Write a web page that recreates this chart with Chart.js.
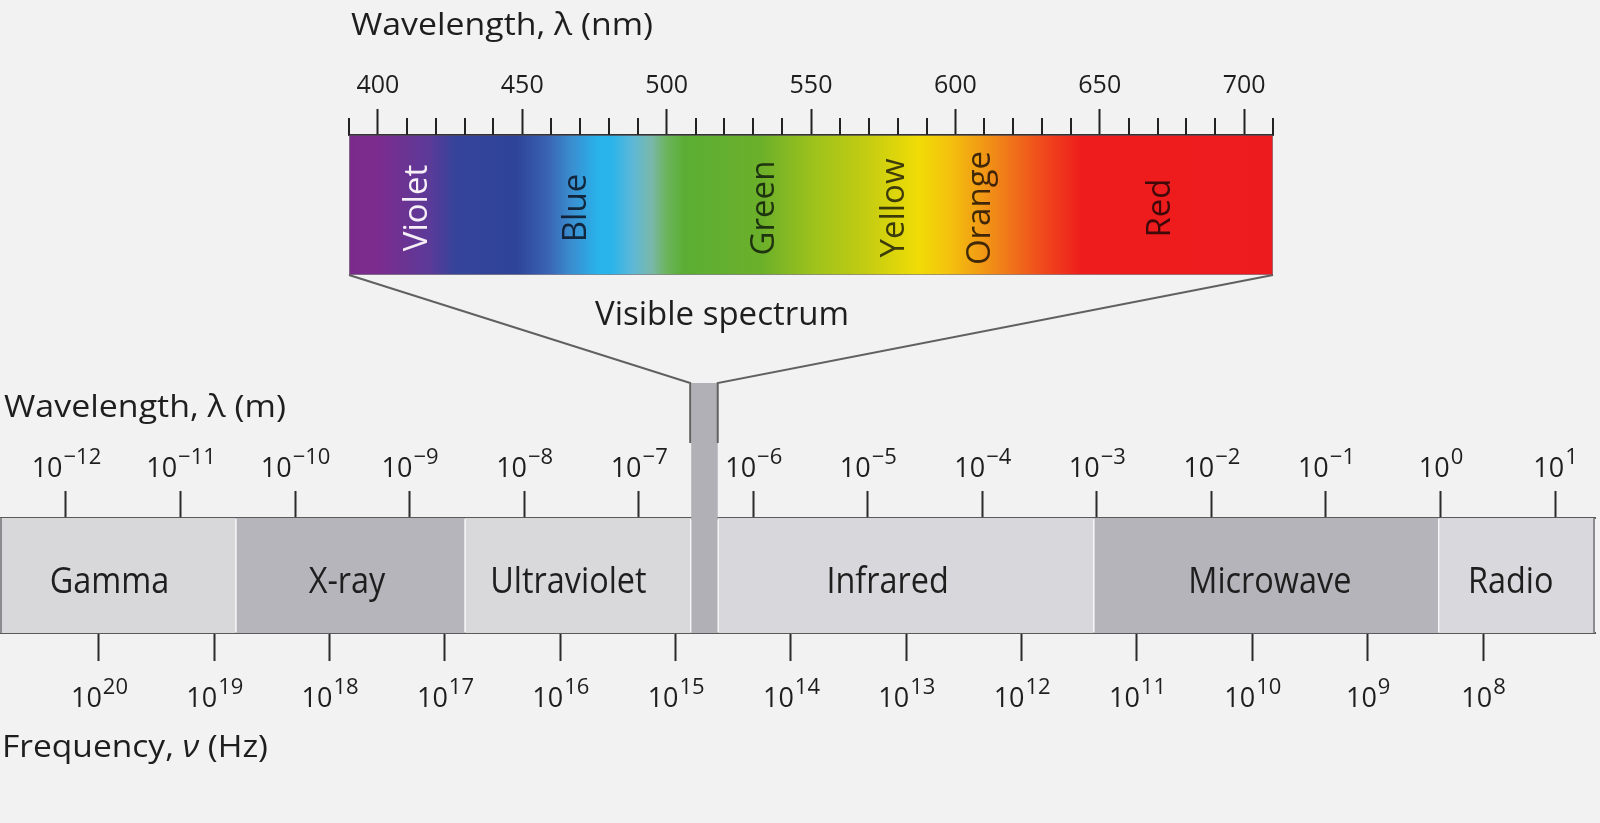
<!DOCTYPE html>
<html>
<head>
<meta charset="utf-8">
<script src="https://cdn.jsdelivr.net/npm/chart.js@4.4.1/dist/chart.umd.min.js"></script>
<style>
  html, body { margin: 0; padding: 0; background: #f2f2f2; }
  #wrap { position: relative; width: 1600px; height: 823px; }
  #wrap canvas { position: absolute; left: 0; top: 0; }
</style>
</head>
<body>
<div id="wrap">
  <canvas id="emChart" width="1600" height="823"></canvas>
  <canvas id="visChart" width="1600" height="823"></canvas>
</div>
<script>
// Visible spectrum, wavelength in nm
const nmRange = [390, 710];
const nmTickLabels = [400, 450, 500, 550, 600, 650, 700];
const colourNames = ['Violet', 'Blue', 'Green', 'Yellow', 'Orange', 'Red'];
const colourNm = [413, 468, 533, 578, 608, 670];

// Electromagnetic bands, log10 of wavelength in metres
const bandNames = ['Gamma', 'X-ray', 'Ultraviolet', 'Visible', 'Infrared', 'Microwave', 'Radio'];
const bandStart = [-12.58, -10.52, -8.52, -6.55, -6.31, -3.03, -0.02];
const bandEnd = [-10.52, -8.52, -6.55, -6.31, -3.03, -0.02, 1.35];

// axis tick labels (powers of ten)
const wavelengthExp = [-12, -11, -10, -9, -8, -7, -6, -5, -4, -3, -2, -1, 0, 1];
const frequencyExp = [20, 19, 18, 17, 16, 15, 14, 13, 12, 11, 10, 9, 8];

// styles
const FONT = "'Open Sans', 'Noto Sans', sans-serif";
const TEXT = '#1e1e1e';
const bandColours = ['#d8d8db', '#b6b5bb', '#d9d9dc', '#b1b0b6', '#d8d8dc', '#b5b4ba', '#d9d8dd'];
const bandLabelShift = [-8, -3, -9, 0, -18, 4, -6];
const specStopNm = [390, 401, 418, 427, 448, 459, 467, 477, 481, 488, 495, 500, 506, 533, 551, 569, 587, 598, 615, 629, 644, 710];
const specStopColour = ['#7b2a8c', '#7a2d8e', '#5b3a98', '#35449a', '#2e4498', '#3a64b4', '#3a8ed0', '#28b5ec',
  '#2ab4ea', '#5cb8d8', '#7ab8a8', '#6cb45c', '#5aae34', '#6cb02a', '#9ec21c', '#c3cc12', '#f0dc06', '#f4c20e',
  '#f08418', '#f04e1c', '#ee1c1c', '#ee1b1e'];
const colourLabelColours = ['#f6eff7', 'rgba(10,10,20,0.8)', 'rgba(10,20,10,0.8)', 'rgba(20,20,10,0.8)',
  'rgba(20,10,5,0.8)', 'rgba(20,5,5,0.8)'];

Chart.defaults.font.family = FONT;

// draws text runs (mixed fonts) starting at x, stretched to a given width
function drawRuns(ctx, runs, x, y, width) {
  let total = 0;
  for (const [text, font] of runs) {
    ctx.font = font;
    total += ctx.measureText(text).width;
  }
  ctx.save();
  ctx.translate(x, y);
  ctx.scale(width ? width / total : 1, 1);
  let cx = 0;
  for (const [text, font] of runs) {
    ctx.font = font;
    ctx.fillText(text, cx, 0);
    cx += ctx.measureText(text).width;
  }
  ctx.restore();
}

function drawPower(ctx, exp, cx, baseline) {
  const sup = exp < 0 ? '\u2212' + Math.abs(exp) : String(exp);
  ctx.font = '27px ' + FONT;
  const wb = ctx.measureText('10').width;
  ctx.font = '22px ' + FONT;
  const ws = ctx.measureText(sup).width;
  const left = cx - (wb + ws) / 2;
  ctx.font = '27px ' + FONT;
  ctx.fillText('10', left, baseline);
  ctx.font = '22px ' + FONT;
  ctx.fillText(sup, left + wb + 1, baseline - 13.5);
}

// ---- visible spectrum chart ----
const visDecor = {
  id: 'visDecor',
  afterDraw(chart) {
    const {ctx, chartArea} = chart;
    const xs = chart.scales.x;
    ctx.save();
    // minor ticks every 10 nm
    ctx.strokeStyle = '#222';
    ctx.lineWidth = 2;
    xs.ticks.forEach(t => {
      if (nmTickLabels.includes(Math.round(t.value))) return;
      const px = Math.round(xs.getPixelForValue(t.value));
      ctx.beginPath();
      ctx.moveTo(px, chartArea.top - 17);
      ctx.lineTo(px, chartArea.top);
      ctx.stroke();
    });
    // colour names, rotated
    ctx.font = '500 33px ' + FONT;
    ctx.textAlign = 'center';
    ctx.textBaseline = 'alphabetic';
    const cy = (chartArea.top + chartArea.bottom) / 2 + 3;
    colourNames.forEach((name, i) => {
      const px = xs.getPixelForValue(colourNm[i]);
      ctx.save();
      ctx.translate(px + 12, cy);
      ctx.rotate(-Math.PI / 2);
      ctx.fillStyle = colourLabelColours[i];
      ctx.fillText(name, 0, 0);
      ctx.restore();
    });
    // title
    ctx.fillStyle = TEXT;
    ctx.textAlign = 'left';
    drawRuns(ctx, [['Wavelength, \u03bb (nm)', '31px ' + FONT]], 351, 35, 302);
    ctx.restore();
  }
};

const visChart = new Chart(document.getElementById('visChart'), {
  type: 'bar',
  data: {
    labels: ['visible'],
    datasets: [{
      data: [nmRange],
      backgroundColor(c) {
        const chart = c.chart;
        if (!chart.chartArea) return '#888';
        const xs = chart.scales.x;
        const g = chart.ctx.createLinearGradient(xs.getPixelForValue(nmRange[0]), 0, xs.getPixelForValue(nmRange[1]), 0);
        specStopNm.forEach((nm, i) => {
          g.addColorStop((nm - nmRange[0]) / (nmRange[1] - nmRange[0]), specStopColour[i]);
        });
        return g;
      },
      borderColor: 'rgba(90,80,90,0.7)',
      borderWidth: 1,
      borderSkipped: false,
      barPercentage: 1,
      categoryPercentage: 1
    }]
  },
  options: {
    indexAxis: 'y',
    responsive: false,
    animation: false,
    layout: { padding: { left: 349, right: 327, top: 62, bottom: 548 } },
    plugins: { legend: { display: false }, tooltip: { enabled: false } },
    scales: {
      x: {
        type: 'linear',
        position: 'top',
        min: nmRange[0],
        max: nmRange[1],
        ticks: {
          stepSize: 10,
          autoSkip: false,
          maxRotation: 0,
          padding: 11,
          color: TEXT,
          font: { size: 25, lineHeight: 1 },
          callback: v => nmTickLabels.includes(Math.round(v)) ? String(v) : ''
        },
        grid: {
          drawOnChartArea: false,
          tickLength: 26,
          tickWidth: 2,
          tickColor: c => nmTickLabels.includes(Math.round(c.tick.value)) ? '#222' : 'rgba(0,0,0,0)'
        },
        border: { display: true, color: '#333', width: 2 }
      },
      y: { type: 'category', display: false }
    }
  },
  plugins: [visDecor]
});

// ---- electromagnetic spectrum chart ----
const emDecor = {
  id: 'emDecor',
  afterDraw(chart) {
    const {ctx, chartArea} = chart;
    const xs = chart.scales.x;
    const xf = chart.scales.xFreq;
    const vi = bandNames.indexOf('Visible');
    const x0 = xs.getPixelForValue(bandStart[vi]);
    const x1 = xs.getPixelForValue(bandEnd[vi]);
    const stripTop = 383;
    ctx.save();
    // outer frame sides
    ctx.strokeStyle = '#8c8c90';
    ctx.lineWidth = 2;
    ctx.beginPath();
    ctx.moveTo(chartArea.left + 1, chartArea.top);
    ctx.lineTo(chartArea.left + 1, chartArea.bottom);
    ctx.moveTo(chartArea.right - 1, chartArea.top);
    ctx.lineTo(chartArea.right - 1, chartArea.bottom);
    ctx.stroke();
    // visible strip rising to the funnel
    ctx.fillStyle = bandColours[vi];
    ctx.fillRect(x0 + 1, stripTop, x1 - x0 - 1, chartArea.top - stripTop + 2);
    ctx.strokeStyle = '#606060';
    ctx.lineWidth = 2;
    ctx.beginPath();
    ctx.moveTo(x0, stripTop + 60); ctx.lineTo(x0, stripTop);
    const va = visChart.chartArea;
    ctx.lineTo(va.left, va.bottom);
    ctx.moveTo(x1, stripTop + 60); ctx.lineTo(x1, stripTop);
    ctx.lineTo(va.right, va.bottom);
    ctx.stroke();
    // band names
    ctx.fillStyle = TEXT;
    ctx.textAlign = 'center';
    ctx.textBaseline = 'alphabetic';
    ctx.font = '500 36px ' + FONT;
    const cy = (chartArea.top + chartArea.bottom) / 2 + 17;
    bandNames.forEach((name, i) => {
      if (i === vi) return;
      const cx = (xs.getPixelForValue(bandStart[i]) + xs.getPixelForValue(bandEnd[i])) / 2 + bandLabelShift[i];
      ctx.save();
      ctx.translate(cx, cy);
      ctx.scale(0.9, 1);
      ctx.fillText(name, 0, 0);
      ctx.restore();
    });
    // power-of-ten tick labels
    ctx.textAlign = 'left';
    xs.ticks.forEach(t => drawPower(ctx, t.value, xs.getPixelForValue(t.value), xs.top - 14));
    xf.ticks.forEach(t => drawPower(ctx, t.value, xf.getPixelForValue(t.value), xf.bottom + 46));
    // titles
    drawRuns(ctx, [['Wavelength, \u03bb (m)', '31px ' + FONT]], 4, 417, 282);
    drawRuns(ctx, [['Frequency, ', '31px ' + FONT], ['\u03bd', 'italic 31px ' + FONT], [' (Hz)', '31px ' + FONT]], 2, 757, 266);
    ctx.textAlign = 'center';
    ctx.font = '33px ' + FONT;
    ctx.fillText('Visible spectrum', 722, 325);
    ctx.restore();
  }
};

const emChart = new Chart(document.getElementById('emChart'), {
  type: 'bar',
  data: {
    labels: ['EM'],
    datasets: [{
      data: bandNames.map((n, i) => ({ x: [bandStart[i], bandEnd[i]], y: 'EM' })),
      backgroundColor: bandColours,
      borderColor: 'rgba(250,250,252,0.75)',
      borderWidth: { left: 1.5, right: 0, top: 0, bottom: 0 },
      borderSkipped: false,
      barPercentage: 1,
      categoryPercentage: 1
    }]
  },
  options: {
    indexAxis: 'y',
    responsive: false,
    animation: false,
    layout: { padding: { left: 0, right: 5, top: 491, bottom: 162 } },
    plugins: { legend: { display: false }, tooltip: { enabled: false } },
    scales: {
      x: {
        type: 'linear',
        position: 'top',
        min: -12.576,
        max: 1.349,
        afterBuildTicks: s => { s.ticks = wavelengthExp.map(v => ({ value: v })); },
        ticks: { display: false },
        grid: { drawOnChartArea: false, tickLength: 27, tickWidth: 2, tickColor: '#2b2b2b' },
        border: { display: true, color: '#5a5a5a', width: 2 }
      },
      xFreq: {
        type: 'linear',
        position: 'bottom',
        reverse: true,
        min: 7.029,
        max: 20.858,
        afterBuildTicks: s => { s.ticks = frequencyExp.map(v => ({ value: v })); },
        ticks: { display: false },
        grid: { drawOnChartArea: false, tickLength: 28, tickWidth: 2, tickColor: '#2b2b2b' },
        border: { display: true, color: '#5a5a5a', width: 2 }
      },
      y: { type: 'category', display: false }
    }
  },
  plugins: [emDecor]
});
</script>
</body>
</html>
